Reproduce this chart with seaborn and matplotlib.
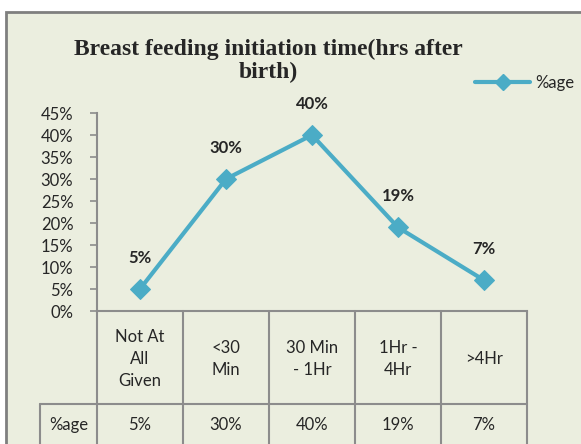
import numpy as np
import pandas as pd
import matplotlib
matplotlib.use('Agg')
import matplotlib.pyplot as plt
import matplotlib.transforms as mtransforms
from matplotlib.patches import Rectangle
from matplotlib.lines import Line2D
import seaborn as sns

# data
categories = ['Not At\nAll\nGiven', '<30\nMin', '30 Min\n- 1Hr', '1Hr -\n4Hr', '>4Hr']
values = [0.05, 0.30, 0.40, 0.19, 0.07]
value_labels = ['5%', '30%', '40%', '19%', '7%']
series_name = '%age'
y_ticks = [0, 0.05, 0.10, 0.15, 0.20, 0.25, 0.30, 0.35, 0.40, 0.45]

df = pd.DataFrame({'cat': categories, 'pct': values})
df['pos'] = np.arange(len(df))

sns.set_style('white')
plt.rcParams['font.family'] = ['Lato', 'DejaVu Sans']

line_color = '#4BACC6'
bg = '#EBEEDF'
grid_gray = '#8C8C8C'
fs = 12

W, H = 581, 444
fig = plt.figure(figsize=(W / 100, H / 100), dpi=100)
fig.patch.set_facecolor('white')

# chart area box
fig.patches.append(Rectangle((6 / W, -0.05), 1.0, 1 - 12 / H + 0.05,
                             transform=fig.transFigure, facecolor=bg,
                             edgecolor='#7F7F7F', linewidth=2, zorder=-5))

left, right, top, bottom = 97, 527, 113, 311
ax = fig.add_axes([left / W, 1 - bottom / H, (right - left) / W, (bottom - top) / H])
ax.set_facecolor('none')
ax.set_zorder(2)

sns.lineplot(data=df, x='pos', y='pct', ax=ax, color=line_color, linewidth=3,
             marker='D', markersize=10, markeredgecolor=line_color,
             label=series_name, sort=False, legend=False)

ax.set_xlim(-0.5, len(df) - 0.5)
ax.set_ylim(0, 0.45)
ax.set_yticks(y_ticks)
ax.set_yticklabels([f'{t * 100:.0f}%' for t in y_ticks], fontsize=fs)
ax.set_xticks([])
ax.set_xlabel('')
ax.set_ylabel('')
for s in ['top', 'right']:
    ax.spines[s].set_visible(False)
for s in ['left', 'bottom']:
    ax.spines[s].set_color(grid_gray)
    ax.spines[s].set_linewidth(1.5)
ax.tick_params(axis='y', left=True, length=5, width=1.2, color=grid_gray, pad=12)

# data labels
for i, (v, lab) in enumerate(zip(df['pct'], value_labels)):
    ax.annotate(lab, (df['pos'][i], v), xytext=(0, 22.5), textcoords='offset points',
                ha='center', va='center', fontsize=fs, fontweight='bold')

# data table under the axis
trans = mtransforms.blended_transform_factory(ax.transData, ax.transAxes)
ph = bottom - top
y_mid = -(404 - bottom) / ph
y_end = -(460 - bottom) / ph
x_rowlab = -(left - 40) / (right - left)
n = len(df)
for k in range(n + 1):
    ax.plot([k - 0.5, k - 0.5], [0, y_end], transform=trans, color=grid_gray,
            lw=1.5, clip_on=False)
ax.plot([x_rowlab, 1], [y_mid, y_mid], transform=ax.transAxes, color=grid_gray,
        lw=1.5, clip_on=False)
ax.plot([x_rowlab, x_rowlab], [y_mid, y_end], transform=ax.transAxes,
        color=grid_gray, lw=1.5, clip_on=False)
for i, (c, lab) in enumerate(zip(df['cat'], value_labels)):
    ax.text(df['pos'][i], -(359 - bottom) / ph, c, transform=trans, ha='center',
            va='center', fontsize=fs, linespacing=1.45)
    ax.text(df['pos'][i], -(425 - bottom) / ph, lab, transform=trans,
            ha='center', va='center', fontsize=fs)
ax.text((x_rowlab + 0) / 2, -(425 - bottom) / ph, series_name, transform=ax.transAxes,
        ha='center', va='center', fontsize=fs)

# title
fig.text(268 / W, 1 - 61 / H, 'Breast feeding initiation time(hrs after\nbirth)',
         ha='center', va='center', fontsize=17, fontweight='bold',
         family='Liberation Serif', linespacing=1.12)

# legend
handle = Line2D([], [], color=line_color, lw=3, marker='D', markersize=8)
ax.legend([handle], [series_name], loc='center left',
          bbox_to_anchor=(475 / W, 1 - 83 / H), bbox_transform=fig.transFigure,
          frameon=False, handlelength=3.3, handletextpad=0.3, borderpad=0,
          borderaxespad=0, fontsize=fs)

fig.savefig('out.png', dpi=100, facecolor='white')
